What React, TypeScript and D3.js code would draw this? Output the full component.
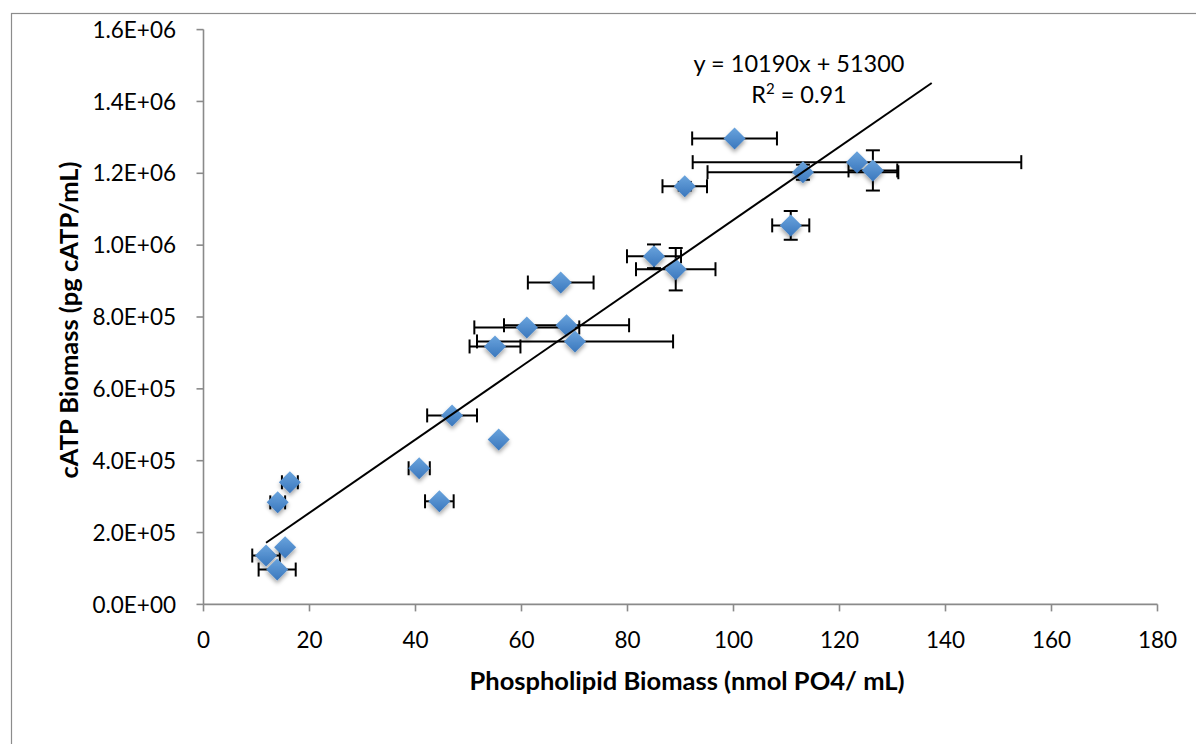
import React from "react";
import * as d3 from "d3";

// Phospholipid biomass (nmol PO4/mL)
const xVals = [11.8, 15.4, 13.9, 14.0, 16.3, 46.9, 55.7, 40.7, 44.5, 67.4, 61.0, 68.5, 55.0, 70.1, 85.0, 89.1, 100.2, 123.3, 126.3, 113.1, 90.8, 110.8];
// cATP biomass (pg cATP/mL)
const yVals = [136000, 159000, 97000, 284000, 340000, 526000, 459000, 379000, 287000, 896000, 771000, 777000, 718000, 732000, 969000, 933000, 1297000, 1231000, 1208000, 1203000, 1164000, 1055000];
const xErr = [2.6, 0, 3.5, 1.4, 1.5, 4.7, 0, 2.0, 2.7, 6.2, 9.9, 11.8, 4.8, 18.5, 5.1, 7.5, 8.0, 31, 4.6, 18, 4.2, 3.5];
const yErr = [0, 0, 0, 0, 0, 0, 0, 0, 0, 0, 0, 0, 0, 0, 33000, 59000, 0, 0, 56000, 21000, 12000, 40000];

const xTicks = [0, 20, 40, 60, 80, 100, 120, 140, 160, 180];
const yTicks = [0, 200000, 400000, 600000, 800000, 1000000, 1200000, 1400000, 1600000];
const slope = 10190;
const intercept = 51300;
const trendExtent = [11.8, 137.4];
const eqText = "y = 10190x + 51300";
const r2Text = "0.91";
const xTitle = "Phospholipid Biomass (nmol PO4/ mL)";
const yTitle = "cATP Biomass (pg cATP/mL)";

const fmt = (v: number) => {
  const e = v === 0 ? 0 : Math.floor(Math.log10(v));
  const m = v === 0 ? 0 : v / Math.pow(10, e);
  return `${m.toFixed(1)}E+${String(e).padStart(2, "0")}`;
};

export default function App() {
  const x = d3.scaleLinear().domain([0, 180]).range([203.5, 1157.5]);
  const y = d3.scaleLinear().domain([0, 1600000]).range([604.4, 29.6]);
  const axisColor = "#8a8a8a";
  const font = "Lato, 'Open Sans', sans-serif";
  const cap = 7;
  const r = 11;
  const pts = xVals.map((xv, i) => ({ xv, yv: yVals[i], xe: xErr[i], ye: yErr[i] }));
  const trend = d3.line<number>().x((d) => x(d)).y((d) => y(slope * d + intercept));

  return (
    <svg width={1196} height={744} style={{ position: "absolute", left: 0, top: 0, background: "#fff" }} fontFamily={font}>
      <defs>
        <linearGradient id="dg" x1="0" y1="0" x2="0" y2="1">
          <stop offset="0" stopColor="#6aa4dd" />
          <stop offset="1" stopColor="#3a77bd" />
        </linearGradient>
        <filter id="sh" x="-50%" y="-50%" width="200%" height="200%">
          <feDropShadow dx="0" dy="3" stdDeviation="2" floodColor="#000" floodOpacity="0.35" />
        </filter>
      </defs>
      <rect x={11.5} y={13.5} width={1300} height={900} fill="none" stroke="#8c8c8c" strokeWidth={1.2} />
      {/* axes */}
      <line x1={x(0)} x2={x(180)} y1={y(0)} y2={y(0)} stroke={axisColor} strokeWidth={1.6} />
      <line x1={x(0)} x2={x(0)} y1={y(0)} y2={y(1600000)} stroke={axisColor} strokeWidth={1.6} />
      {xTicks.map((t) => (
        <g key={"xt" + t}>
          <line x1={x(t)} x2={x(t)} y1={y(0)} y2={y(0) + 7} stroke={axisColor} strokeWidth={1.6} />
          <text x={x(t)} y={648} textAnchor="middle" fontSize={22.5} fill="#000">{t}</text>
        </g>
      ))}
      {yTicks.map((t) => (
        <g key={"yt" + t}>
          <line x1={x(0) - 7} x2={x(0)} y1={y(t)} y2={y(t)} stroke={axisColor} strokeWidth={1.6} />
          <text x={176} y={y(t)} dy="0.36em" textAnchor="end" fontSize={22.5} fill="#000">{fmt(t)}</text>
        </g>
      ))}
      {/* error bars */}
      {pts.map((p, i) => (
        <g key={"eb" + i} stroke="#000" strokeWidth={2}>
          {p.xe > 0 && (
            <>
              <line x1={x(p.xv - p.xe)} x2={x(p.xv + p.xe)} y1={y(p.yv)} y2={y(p.yv)} />
              <line x1={x(p.xv - p.xe)} x2={x(p.xv - p.xe)} y1={y(p.yv) - cap} y2={y(p.yv) + cap} />
              <line x1={x(p.xv + p.xe)} x2={x(p.xv + p.xe)} y1={y(p.yv) - cap} y2={y(p.yv) + cap} />
            </>
          )}
          {p.ye > 0 && (
            <>
              <line x1={x(p.xv)} x2={x(p.xv)} y1={y(p.yv - p.ye)} y2={y(p.yv + p.ye)} />
              <line x1={x(p.xv) - cap} x2={x(p.xv) + cap} y1={y(p.yv - p.ye)} y2={y(p.yv - p.ye)} />
              <line x1={x(p.xv) - cap} x2={x(p.xv) + cap} y1={y(p.yv + p.ye)} y2={y(p.yv + p.ye)} />
            </>
          )}
        </g>
      ))}
      {/* markers */}
      {pts.map((p, i) => {
        const cx = x(p.xv);
        const cy = y(p.yv);
        return (
          <path
            key={"m" + i}
            d={`M${cx},${cy - r}L${cx + r},${cy}L${cx},${cy + r}L${cx - r},${cy}Z`}
            fill="url(#dg)"
            filter="url(#sh)"
          />
        );
      })}
      {/* trendline */}
      <path d={trend(trendExtent) || ""} fill="none" stroke="#000" strokeWidth={2} />
      <text x={799} y={72} textAnchor="middle" fontSize={23.5} fill="#000">{eqText}</text>
      <text x={799} y={103} textAnchor="middle" fontSize={23.5} fill="#000">
        R<tspan dy={-9} fontSize={15}>2</tspan><tspan dy={9}>{" = " + r2Text}</tspan>
      </text>
      {/* axis titles */}
      <text x={687} y={690} textAnchor="middle" fontSize={25.5} fontWeight="bold" fill="#000">{xTitle}</text>
      <text transform={`translate(78,320) rotate(-90)`} textAnchor="middle" fontSize={25.5} fontWeight="bold" fill="#000">{yTitle}</text>
    </svg>
  );
}
